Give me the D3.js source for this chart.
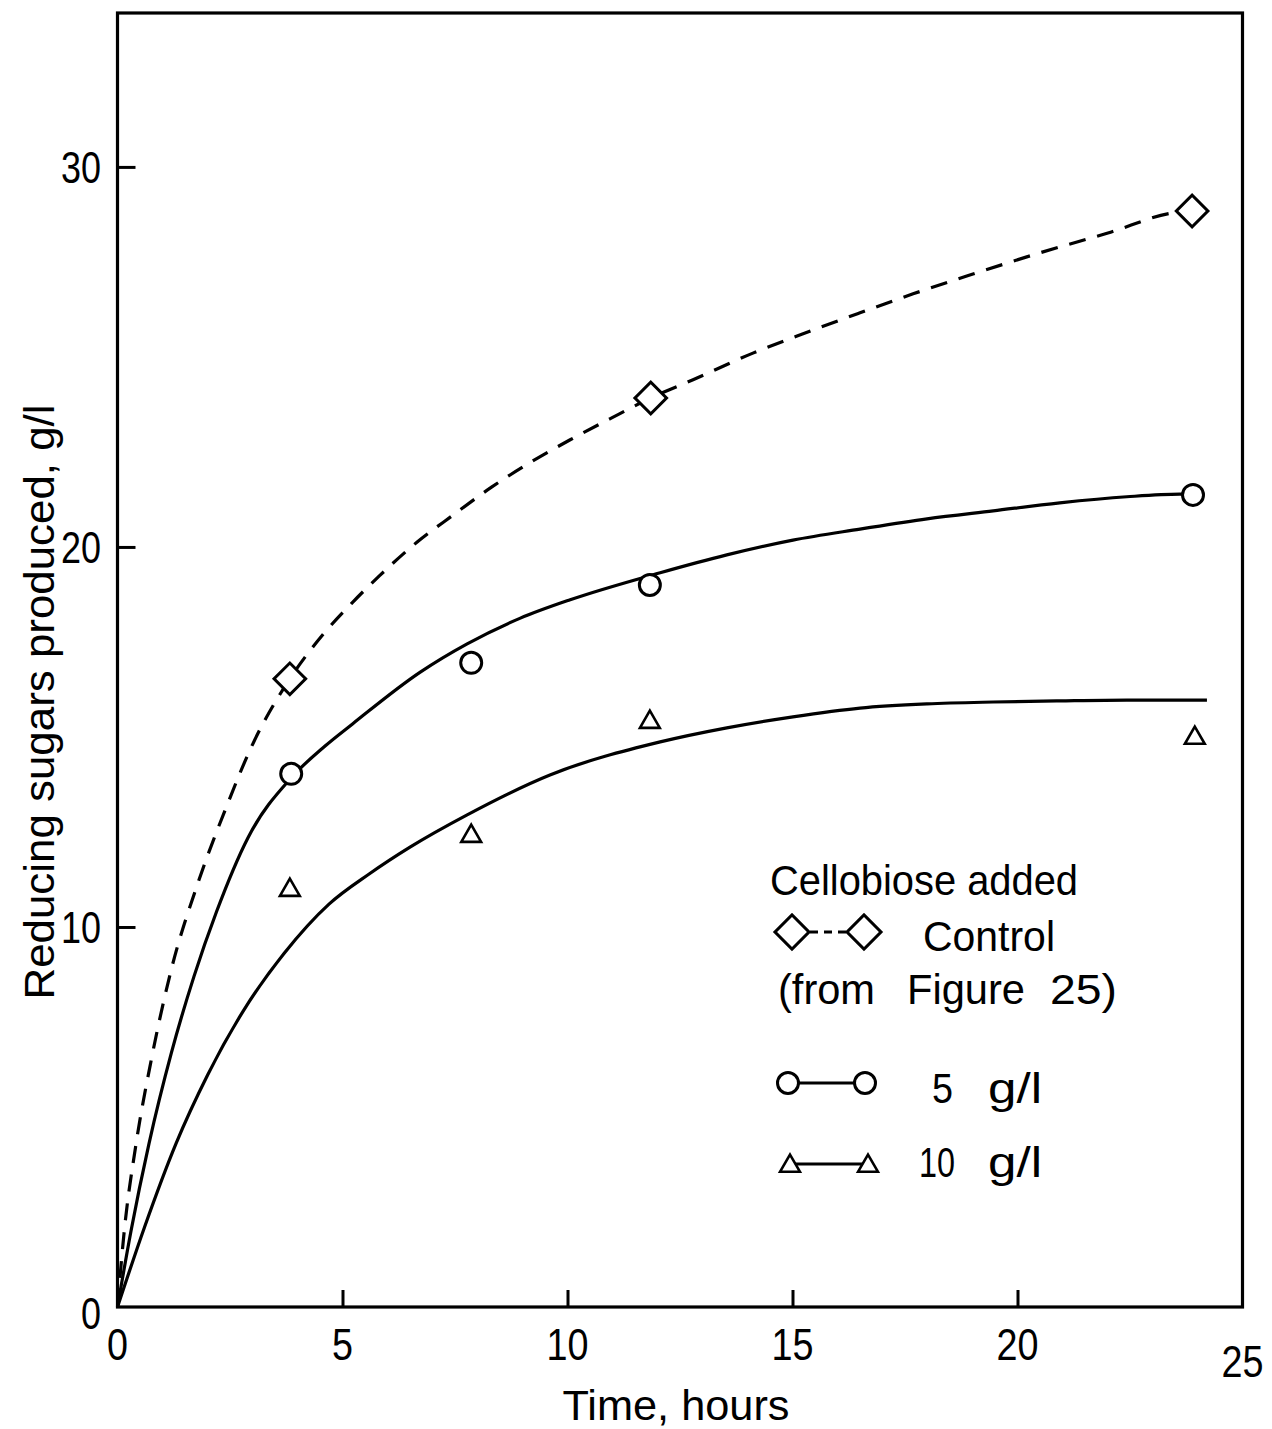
<!DOCTYPE html>
<html>
<head>
<meta charset="utf-8">
<script src="https://cdn.jsdelivr.net/npm/d3@7"></script>
<style>
  html, body { margin: 0; padding: 0; background: #fff; }
  svg { display: block; }
  text { font-family: "Liberation Sans", "DejaVu Sans", sans-serif; fill: #000; }
</style>
</head>
<body>
<svg id="chart" width="1272" height="1429"></svg>
<script>
// ---- data ----
const xTicks = [5, 10, 15, 20];
const xTickLabels = ["0", "5", "10", "15", "20", "25"];
const xTickLabelValues = [0, 5, 10, 15, 20, 25];
const yTicks = [10, 20, 30];
const yTickLabels = ["0", "10", "20", "30"];
const yTickLabelValues = [0, 10, 20, 30];

// measured points (time in hours, reducing sugars g/l)
const controlT = [3.83, 11.85, 23.88];
const controlV = [16.53, 23.92, 28.84];
const g5T = [3.86, 7.86, 11.83, 23.9];
const g5V = [14.03, 16.95, 19.0, 21.37];
const g10T = [3.83, 7.86, 11.83, 23.94];
const g10V = [10.97, 12.39, 15.39, 14.97];

// fitted curves
const controlCurveT = [0, 0.15, 0.4, 0.75, 1.2, 1.8, 2.4, 3.0, 3.83, 4.57, 5.23, 5.83, 6.66, 7.46, 8.32, 9.17, 10.06, 10.94, 11.85, 12.79, 14.12, 15.28, 16.5, 17.68, 19.01, 20.5, 22.01, 23.5, 23.88];
const controlCurveV = [0, 2.0, 4.2, 6.5, 8.9, 11.2, 13.1, 14.8, 16.53, 17.7, 18.55, 19.25, 20.13, 20.84, 21.58, 22.22, 22.82, 23.37, 23.92, 24.4, 25.1, 25.63, 26.16, 26.66, 27.18, 27.74, 28.26, 28.8, 28.84];
const g5CurveT = [0, 0.3, 0.7, 1.2, 1.7, 2.2, 2.9, 3.88, 4.6, 5.23, 6.72, 7.77, 8.94, 10.06, 12.06, 13.54, 15.01, 16.5, 17.99, 19.46, 20.94, 22.43, 23.61, 23.9];
const g5CurveV = [0, 2.0, 4.3, 6.7, 8.7, 10.4, 12.35, 13.95, 14.75, 15.35, 16.7, 17.45, 18.12, 18.61, 19.32, 19.79, 20.18, 20.47, 20.74, 20.95, 21.16, 21.32, 21.39, 21.37];
const g10CurveT = [0, 0.6, 1.3, 2.0, 2.8, 3.7, 4.7, 5.6, 6.5, 7.77, 9.61, 12.06, 13.54, 15.01, 16.5, 17.99, 19.46, 20.94, 22.43, 24.21];
const g10CurveV = [0, 2.1, 4.3, 6.1, 7.8, 9.3, 10.6, 11.4, 12.1, 12.95, 14.0, 14.87, 15.24, 15.53, 15.76, 15.87, 15.92, 15.95, 15.97, 15.97];

const xTitle = "Time, hours";
const yTitle = "Reducing sugars produced, g/l";
const legendTitle = "Cellobiose added";

// ---- drawing ----
const svg = d3.select("#chart");
const x = d3.scaleLinear().domain([0, 25]).range([117.5, 1242.5]);
const y = d3.scaleLinear().domain([0, 34.05]).range([1307, 13]);

const zip = (a, b) => a.map((v, i) => [v, b[i]]);
const line = d3.line().x(d => x(d[0])).y(d => y(d[1])).curve(d3.curveMonotoneX);

// curves
svg.append("path").attr("d", line(zip(controlCurveT, controlCurveV)))
  .attr("fill", "none").attr("stroke", "#000").attr("stroke-width", 3.2)
  .attr("stroke-dasharray", "17,12");
svg.append("path").attr("d", line(zip(g5CurveT, g5CurveV)))
  .attr("fill", "none").attr("stroke", "#000").attr("stroke-width", 3.2);
svg.append("path").attr("d", line(zip(g10CurveT, g10CurveV)))
  .attr("fill", "none").attr("stroke", "#000").attr("stroke-width", 3.2);

// frame
const [x0, x1] = x.range();
const [y0, y1] = y.range();
svg.append("rect").attr("x", x0).attr("y", y1).attr("width", x1 - x0).attr("height", y0 - y1)
  .attr("fill", "none").attr("stroke", "#000").attr("stroke-width", 3.2);

// axes ticks (inward) via d3 axes
const xAxis = d3.axisBottom(x).tickValues(xTicks).tickSize(-17).tickFormat("");
svg.append("g").attr("transform", `translate(0,${y0})`).call(xAxis)
  .call(g => g.select(".domain").remove())
  .selectAll("line").attr("stroke", "#000").attr("stroke-width", 3);
const yAxis = d3.axisLeft(y).tickValues(yTicks).tickSize(-18).tickFormat("");
svg.append("g").attr("transform", `translate(${x0},0)`).call(yAxis)
  .call(g => g.select(".domain").remove())
  .selectAll("line").attr("stroke", "#000").attr("stroke-width", 3);

// tick labels
svg.selectAll(".xl").data(xTickLabelValues).join("text")
  .attr("x", d => x(d)).attr("y", (d) => d === 25 ? 1377 : 1360)
  .attr("text-anchor", "middle").attr("font-size", 44)
  .attr("textLength", (d, i) => xTickLabels[i].length * 21).attr("lengthAdjust", "spacingAndGlyphs")
  .text((d, i) => xTickLabels[i]);
svg.selectAll(".yl").data(yTickLabelValues).join("text")
  .attr("x", 101).attr("y", d => y(d) + 16 + (d === 0 ? 6 : 0))
  .attr("text-anchor", "end").attr("font-size", 44)
  .attr("textLength", (d, i) => yTickLabels[i].length * 20).attr("lengthAdjust", "spacingAndGlyphs")
  .text((d, i) => yTickLabels[i]);

// titles
svg.append("text").attr("x", 676).attr("y", 1420).attr("text-anchor", "middle")
  .attr("font-size", 42).attr("textLength", 227).attr("lengthAdjust", "spacingAndGlyphs").text(xTitle);
svg.append("text").attr("transform", "translate(54,702) rotate(-90)").attr("text-anchor", "middle")
  .attr("font-size", 42).attr("textLength", 595).attr("lengthAdjust", "spacingAndGlyphs").text(yTitle);

// markers
const diamond = d3.symbol(d3.symbolSquare, 500);
const tri = d3.symbol(d3.symbolTriangle, 170);
svg.selectAll(".dm").data(zip(controlT, controlV)).join("path")
  .attr("d", diamond()).attr("transform", d => `translate(${x(d[0])},${y(d[1])}) rotate(45)`)
  .attr("fill", "#fff").attr("stroke", "#000").attr("stroke-width", 3);
svg.selectAll(".cm").data(zip(g5T, g5V)).join("circle")
  .attr("cx", d => x(d[0])).attr("cy", d => y(d[1])).attr("r", 10.5)
  .attr("fill", "#fff").attr("stroke", "#000").attr("stroke-width", 3);
svg.selectAll(".tm").data(zip(g10T, g10V)).join("path")
  .attr("d", tri()).attr("transform", d => `translate(${x(d[0])},${y(d[1])})`)
  .attr("fill", "#fff").attr("stroke", "#000").attr("stroke-width", 2.6);

// legend
const lg = svg.append("g");
function txt(s, xx, yy, len) {
  lg.append("text").attr("x", xx).attr("y", yy).attr("font-size", 42)
    .attr("textLength", len).attr("lengthAdjust", "spacingAndGlyphs").text(s);
}
txt(legendTitle, 770, 895, 308);
lg.append("line").attr("x1", 810).attr("x2", 846).attr("y1", 932).attr("y2", 932)
  .attr("stroke", "#000").attr("stroke-width", 3).attr("stroke-dasharray", "8,6");
[792, 864].forEach(cx => lg.append("path").attr("d", d3.symbol(d3.symbolSquare, 580)())
  .attr("transform", `translate(${cx},932) rotate(45)`).attr("fill", "#fff").attr("stroke", "#000").attr("stroke-width", 3));
txt("Control", 923, 951, 132);
txt("(from", 778, 1004, 97);
txt("Figure", 907, 1004, 118);
txt("25)", 1050, 1004, 67);
lg.append("line").attr("x1", 788).attr("x2", 865).attr("y1", 1083).attr("y2", 1083)
  .attr("stroke", "#000").attr("stroke-width", 3);
[788, 865].forEach(cx => lg.append("circle").attr("cx", cx).attr("cy", 1083).attr("r", 10.5)
  .attr("fill", "#fff").attr("stroke", "#000").attr("stroke-width", 3));
txt("5", 932, 1103, 21);
txt("g/l", 988, 1103, 54);
lg.append("line").attr("x1", 790).attr("x2", 868).attr("y1", 1164).attr("y2", 1164)
  .attr("stroke", "#000").attr("stroke-width", 3);
[790, 868].forEach(cx => lg.append("path").attr("d", tri())
  .attr("transform", `translate(${cx},1166)`).attr("fill", "#fff").attr("stroke", "#000").attr("stroke-width", 2.6));
txt("10", 919, 1177, 36);
txt("g/l", 988, 1177, 54);
</script>
</body>
</html>
